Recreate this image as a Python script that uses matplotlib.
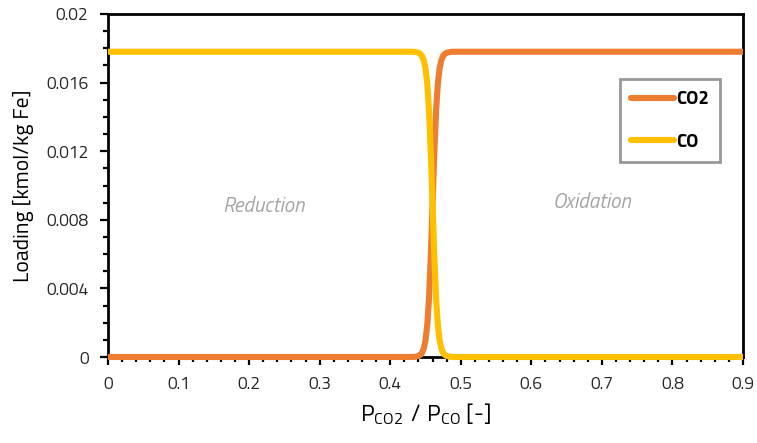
import matplotlib
matplotlib.use("Agg")
import matplotlib.pyplot as plt
from matplotlib.ticker import MultipleLocator

# Pressure ratio P_CO2 / P_CO
ratio = [0.0, 0.42, 0.43, 0.435, 0.44, 0.4425, 0.445, 0.4475, 0.45, 0.4525,
         0.455, 0.4575, 0.46, 0.4625, 0.465, 0.4675, 0.47, 0.4725, 0.475,
         0.4775, 0.48, 0.485, 0.49, 0.5, 0.9]

# Loading [kmol/kg Fe]
co2_loading = [0.0, 0.0, 0.0, 0.00001, 0.00006, 0.00012, 0.00024, 0.00049,
               0.00097, 0.00187, 0.00344, 0.00586, 0.0089, 0.01194, 0.01436,
               0.01593, 0.01683, 0.01731, 0.01756, 0.01768, 0.01774, 0.01779,
               0.0178, 0.0178, 0.0178]
co_loading = [0.0178, 0.0178, 0.0178, 0.01779, 0.01774, 0.01768, 0.01756,
              0.01731, 0.01683, 0.01593, 0.01436, 0.01194, 0.0089, 0.00586,
              0.00344, 0.00187, 0.00097, 0.00049, 0.00024, 0.00012, 0.00006,
              0.00001, 0.0, 0.0, 0.0]

x_ticks = [0.0, 0.1, 0.2, 0.3, 0.4, 0.5, 0.6, 0.7, 0.8, 0.9]
x_tick_labels = ["0", "0.1", "0.2", "0.3", "0.4", "0.5", "0.6", "0.7", "0.8", "0.9"]
y_ticks = [0.0, 0.004, 0.008, 0.012, 0.016, 0.02]
y_tick_labels = ["0", "0.004", "0.008", "0.012", "0.016", "0.02"]

FONT = ["Titillium Web", "DejaVu Sans"]
plt.rcParams["font.family"] = FONT
plt.rcParams["mathtext.fontset"] = "custom"
plt.rcParams["mathtext.rm"] = FONT[0]

fig = plt.figure(figsize=(7.57, 4.43), dpi=100)
ax = fig.add_axes([108 / 757, 1 - 357 / 443, 635 / 757, 343 / 443])

ax.plot(ratio, co2_loading, color="#ED7D31", lw=4.4, solid_capstyle="butt",
        solid_joinstyle="round", label="CO2", zorder=3, clip_on=False)
ax.plot(ratio, co_loading, color="#FFC000", lw=4.4, solid_capstyle="butt",
        solid_joinstyle="round", label="CO", zorder=4, clip_on=False)

ax.set_xlim(0, 0.9)
ax.set_ylim(0, 0.02)
ax.set_xticks(x_ticks, x_tick_labels)
ax.set_yticks(y_ticks, y_tick_labels)
ax.xaxis.set_minor_locator(MultipleLocator(0.02))
ax.yaxis.set_minor_locator(MultipleLocator(0.001))

for side in ax.spines.values():
    side.set_linewidth(2.0)
    side.set_color("black")

ax.tick_params(which="major", direction="out", length=6, width=1.6,
               labelsize=12.5, colors="black", labelcolor="#262626", pad=8)
ax.tick_params(which="minor", direction="out", length=3.5, width=1.6,
               colors="black")

ax.set_ylabel("Loading [kmol/kg Fe]", fontsize=15.5, color="black", labelpad=9)
ax.set_xlabel(r"$\mathregular{P_{CO2}\ /\ P_{CO}}$ [-]", fontsize=16.5,
              color="black", labelpad=6)

ax.text(0.22, 0.0088, "Reduction", style="italic", color="#A6A6A6",
        fontsize=15, ha="center", va="center")
ax.text(0.686, 0.009, "Oxidation", style="italic", color="#A6A6A6",
        fontsize=15, ha="center", va="center")

leg = ax.legend(loc="upper left", bbox_to_anchor=(0.806, 0.81),
                frameon=True, fancybox=False, fontsize=13.5,
                handlelength=2.3, handletextpad=0.1, labelspacing=1.3,
                borderpad=0.6, borderaxespad=0)
leg.get_frame().set_edgecolor("#7F7F7F")
leg.get_frame().set_linewidth(2.0)
for t in leg.get_texts():
    t.set_fontweight("bold")
for h in leg.get_lines():
    h.set_solid_capstyle("round")

fig.savefig("out.png", dpi=100)
